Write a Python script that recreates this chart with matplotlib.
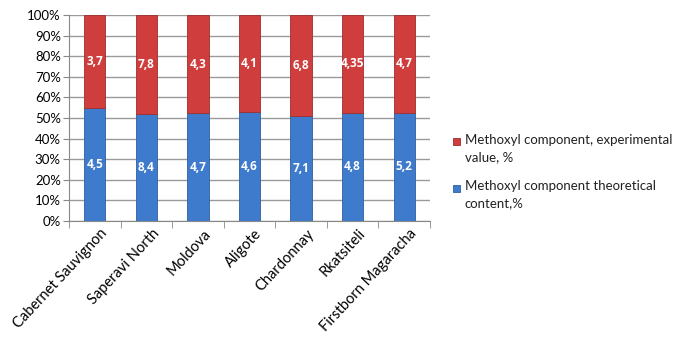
import matplotlib
matplotlib.use("Agg")
import matplotlib.pyplot as plt
import numpy as np
from matplotlib.patches import Rectangle
from matplotlib.ticker import FuncFormatter, FixedLocator

plt.rcParams['font.family'] = ['Lato', 'DejaVu Sans']

categories = ["Cabernet Sauvignon", "Saperavi North", "Moldova", "Aligote",
              "Chardonnay", "Rkatsiteli", "Firstborn Magaracha"]
theoretical = [4.5, 8.4, 4.7, 4.6, 7.1, 4.8, 5.2]
experimental = [3.7, 7.8, 4.3, 4.1, 6.8, 4.35, 4.7]
theoretical_labels = ["4,5", "8,4", "4,7", "4,6", "7,1", "4,8", "5,2"]
experimental_labels = ["3,7", "7,8", "4,3", "4,1", "6,8", "4,35", "4,7"]
legend_labels = ["Methoxyl component, experimental\nvalue, %",
                 "Methoxyl component theoretical\ncontent,%"]

th = np.array(theoretical)
ex = np.array(experimental)
tot = th + ex
th_pct = th / tot * 100
ex_pct = ex / tot * 100

W, H = 678, 347
fig = plt.figure(figsize=(W / 100, H / 100), dpi=100)
ax = fig.add_axes([0.102, 0.363, 0.532, 0.594])

x = np.arange(len(categories))
w = 0.41
blue = "#3f7bcc"
red = "#cf3d3d"
blue_e = "#2f5f9e"
red_e = "#9e2f2f"
ax.bar(x, th_pct, w, color=blue, edgecolor=blue_e, linewidth=0.6, zorder=3)
ax.bar(x, ex_pct, w, bottom=th_pct, color=red, edgecolor=red_e, linewidth=0.6, zorder=3)

for i in range(len(x)):
    ax.text(x[i], th_pct[i] / 2, theoretical_labels[i], ha="center", va="center",
            color="white", fontsize=8.5, fontweight="bold", family="Open Sans", zorder=4)
    ax.text(x[i], th_pct[i] + ex_pct[i] / 2, experimental_labels[i], ha="center", va="center",
            color="white", fontsize=8.5, fontweight="bold", family="Open Sans", zorder=4)

ax.set_xlim(-0.5, len(categories) - 0.5)
ax.set_ylim(0, 100)
ax.set_yticks(np.arange(0, 101, 10))
ax.yaxis.set_major_formatter(FuncFormatter(lambda v, p: f"{int(v)}%"))
ax.grid(axis="y", color="#9a9a9a", linewidth=1.0, zorder=0)
ax.set_axisbelow(True)

ax.set_xticks(x + 0.1)
ax.set_xticklabels(categories, rotation=47, ha="right", rotation_mode="anchor", fontsize=10.5)
ax.tick_params(axis="x", length=0, pad=4)
ax.xaxis.set_minor_locator(FixedLocator(np.arange(-0.5, len(categories), 1.0)))
ax.tick_params(axis="x", which="minor", length=5, color="#888888")
ax.tick_params(axis="y", labelsize=9.5, length=4, color="#888888", pad=2)

for s in ["top", "right"]:
    ax.spines[s].set_visible(False)
ax.spines["left"].set_color("#888888")
ax.spines["bottom"].set_color("#888888")

# legend drawn manually: marker aligned with the first text line
leg_items = [(red, red_e, legend_labels[0], 142), (blue, blue_e, legend_labels[1], 188)]
for fc, ec, lab, ypx in leg_items:
    s = 7
    fig.patches.append(Rectangle(((453) / W, 1 - (ypx + s / 2) / H), s / W, s / H,
                                 transform=fig.transFigure, facecolor=fc, edgecolor=ec,
                                 linewidth=0.6))
    fig.text(465 / W, 1 - (ypx - 8) / H, lab, ha="left", va="top", fontsize=9.5,
             linespacing=1.55, color="#222222")

fig.savefig("out.png", dpi=100)
